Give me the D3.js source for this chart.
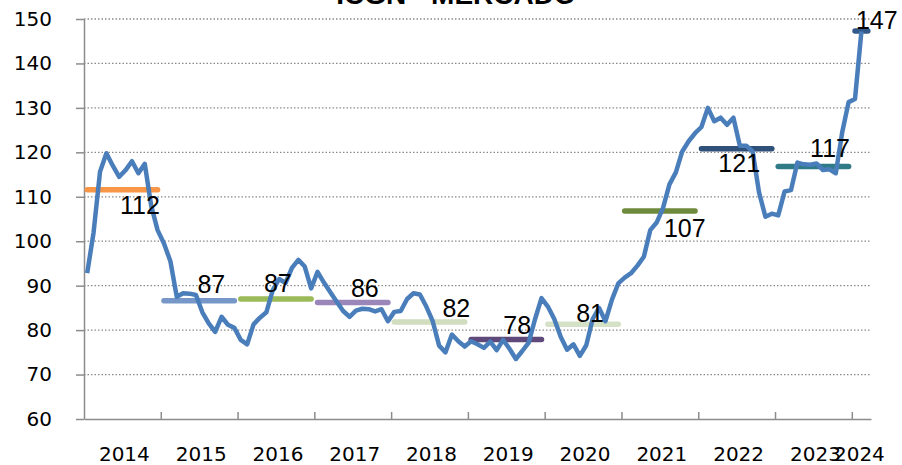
<!DOCTYPE html>
<html>
<head>
<meta charset="utf-8">
<script src="https://cdn.jsdelivr.net/npm/d3@7"></script>
<style>
  body { margin: 0; background: #fff; }
  svg { display: block; }
</style>
</head>
<body>
<svg class="chart"></svg>
<script>
// monthly index values, Jan 2014 .. Feb 2024
var monthly = [
  92.8, 102, 115.6, 119.8, 117, 114.5, 116, 118, 115.3, 117.4, 108, 102.5,      // 2014
  99.5, 95.5, 87.5, 88.3, 88.2, 87.9, 84, 81.5, 79.6, 83, 81.2, 80.5,            // 2015
  77.8, 76.8, 81.3, 82.8, 84, 89, 91.5, 90.6, 94, 95.8, 94.3, 89.4,              // 2016
  93.1, 90.7, 88.5, 86.4, 84.3, 83, 84.4, 84.8, 84.7, 84.2, 84.7, 82,            // 2017
  84.1, 84.3, 87, 88.3, 88, 85.3, 82, 76.5, 75, 79, 77.5, 76.3,                  // 2018
  77.5, 76.8, 76, 77.4, 75.5, 77.8, 75.8, 73.5, 75.3, 77.2, 82.5, 87.2,          // 2019
  85.3, 82.5, 78.5, 75.6, 76.8, 74.2, 76.6, 82.5, 85, 82, 86.8, 90.5,            // 2020
  91.8, 92.8, 94.5, 96.5, 102.5, 104.2, 107.5, 112.8, 115.5, 120.2, 122.5, 124.3, // 2021
  125.7, 130, 127, 127.8, 126.2, 127.8, 121.5, 121.5, 120.2, 111, 105.5, 106.2,  // 2022
  105.8, 111.2, 111.5, 117.7, 117.3, 117.2, 117.5, 116, 116.2, 115.3, 124.5, 131.3, // 2023
  132, 147.2                                                                     // 2024
];

var years = [2014, 2015, 2016, 2017, 2018, 2019, 2020, 2021, 2022, 2023, 2024];
var annualAvg = [111.6, 86.6, 87.0, 86.2, 81.8, 77.9, 81.3, 106.8, 120.8, 116.8, 147.3];
var avgColors = ["#f79646", "#7797c9", "#9bbb59", "#9a86b8", "#d0ddbe", "#5e497a",
                 "#d5e1c6", "#6f8a3c", "#2f5078", "#2e7b87", "#33598a"];
var yTicks = [60, 70, 80, 90, 100, 110, 120, 130, 140, 150];
var nMonths = 123; // axis runs Jan 2014 .. Mar 2024

// where each average label sits: month within the year, and baseline offset
var labelPlace = [
  {m: 8.25, dy: 24}, {m: 7.4, dy: -7.5}, {m: 5.8, dy: -7.5}, {m: 7.4, dy: -6},
  {m: 9.7, dy: -5}, {m: 7.2, dy: -5}, {m: 6.6, dy: -2}, {m: 9.4, dy: 25.5},
  {m: 5.9, dy: 23.5}, {m: 8.1, dy: -10}, {m: 3.4, dy: -2.5}
];

function draw() {
  var W = 902, H = 465;
  var mLeft = 84, mRight = 871, mTop = 19, mBottom = 419;

  var svg = d3.select(".chart").attr("width", W).attr("height", H);

  var x = d3.scaleLinear().domain([0, nMonths]).range([mLeft, mRight]);
  var y = d3.scaleLinear().domain([60, 150]).range([mBottom, mTop]);

  // dotted gridlines
  svg.append("g").selectAll("line").data(yTicks.slice(1)).enter()
    .append("line")
    .attr("x1", mLeft).attr("x2", mRight)
    .attr("y1", function(d) { return y(d); })
    .attr("y2", function(d) { return y(d); })
    .attr("stroke", "#8a8a8a")
    .attr("stroke-width", 1.3)
    .attr("stroke-dasharray", "1.5,2");

  // y axis
  var yAxis = svg.append("g")
    .attr("transform", "translate(" + mLeft + ",0)")
    .call(d3.axisLeft(y).tickValues(yTicks).tickSize(8).tickSizeOuter(0).tickPadding(24));
  yAxis.selectAll("line, path").attr("stroke", "#8c8c8c").attr("stroke-width", 1.5);
  yAxis.selectAll("text")
    .attr("font-family", "DejaVu Sans, Verdana, sans-serif")
    .attr("font-size", 20).attr("fill", "#000");

  // x axis with inward year ticks
  var yearStarts = years.map(function(d, i) { return i * 12; });
  var xAxis = svg.append("g")
    .attr("transform", "translate(0," + mBottom + ")")
    .call(d3.axisBottom(x).tickValues(yearStarts.slice(1)).tickSize(-7).tickSizeOuter(0).tickFormat(""));
  xAxis.selectAll("line, path").attr("stroke", "#8c8c8c").attr("stroke-width", 1.5);

  svg.append("g").selectAll("text").data(years).enter()
    .append("text")
    .attr("x", function(d, i) {
      var a = i * 12, b = Math.min(a + 12, nMonths);
      var cx = x((a + b) / 2) + 2;
      return i === years.length - 1 ? cx - 4 : cx;
    })
    .attr("y", 461)
    .attr("text-anchor", "middle")
    .attr("font-family", "DejaVu Sans, Verdana, sans-serif")
    .attr("font-size", 20)
    .text(function(d) { return d; });

  // annual average segments
  svg.append("g").selectAll("line").data(annualAvg).enter()
    .append("line")
    .attr("x1", function(d, i) { return x(i * 12 + 0.5); })
    .attr("x2", function(d, i) { return x(Math.min(i * 12 + 12, nMonths) - 0.5); })
    .attr("y1", function(d) { return y(d); })
    .attr("y2", function(d) { return y(d); })
    .attr("stroke", function(d, i) { return avgColors[i]; })
    .attr("stroke-width", 5.5)
    .attr("stroke-linecap", "round");

  // monthly line
  var line = d3.line()
    .x(function(d, i) { return x(i + 0.5); })
    .y(function(d) { return y(d); });

  svg.append("path")
    .datum(monthly)
    .attr("d", line)
    .attr("fill", "none")
    .attr("stroke", "#4a7ebb")
    .attr("stroke-width", 4.5)
    .attr("stroke-linejoin", "round");

  // average labels
  svg.append("g").selectAll("text").data(annualAvg).enter()
    .append("text")
    .attr("x", function(d, i) { return x(i * 12 + labelPlace[i].m + 0.5); })
    .attr("y", function(d, i) { return y(d) + labelPlace[i].dy; })
    .attr("text-anchor", "middle")
    .attr("font-family", "Liberation Sans, Arial, sans-serif")
    .attr("font-size", 25)
    .attr("fill", "#000")
    .text(function(d) { return Math.round(d); });

  // title, clipped at the top edge
  svg.append("text")
    .attr("x", 456).attr("y", 4)
    .attr("text-anchor", "middle")
    .attr("font-family", "Liberation Sans, Arial, sans-serif")
    .attr("font-weight", "bold")
    .attr("font-size", 28)
    .text("ICGN - MERCADO");
}

draw();
</script>
</body>
</html>
